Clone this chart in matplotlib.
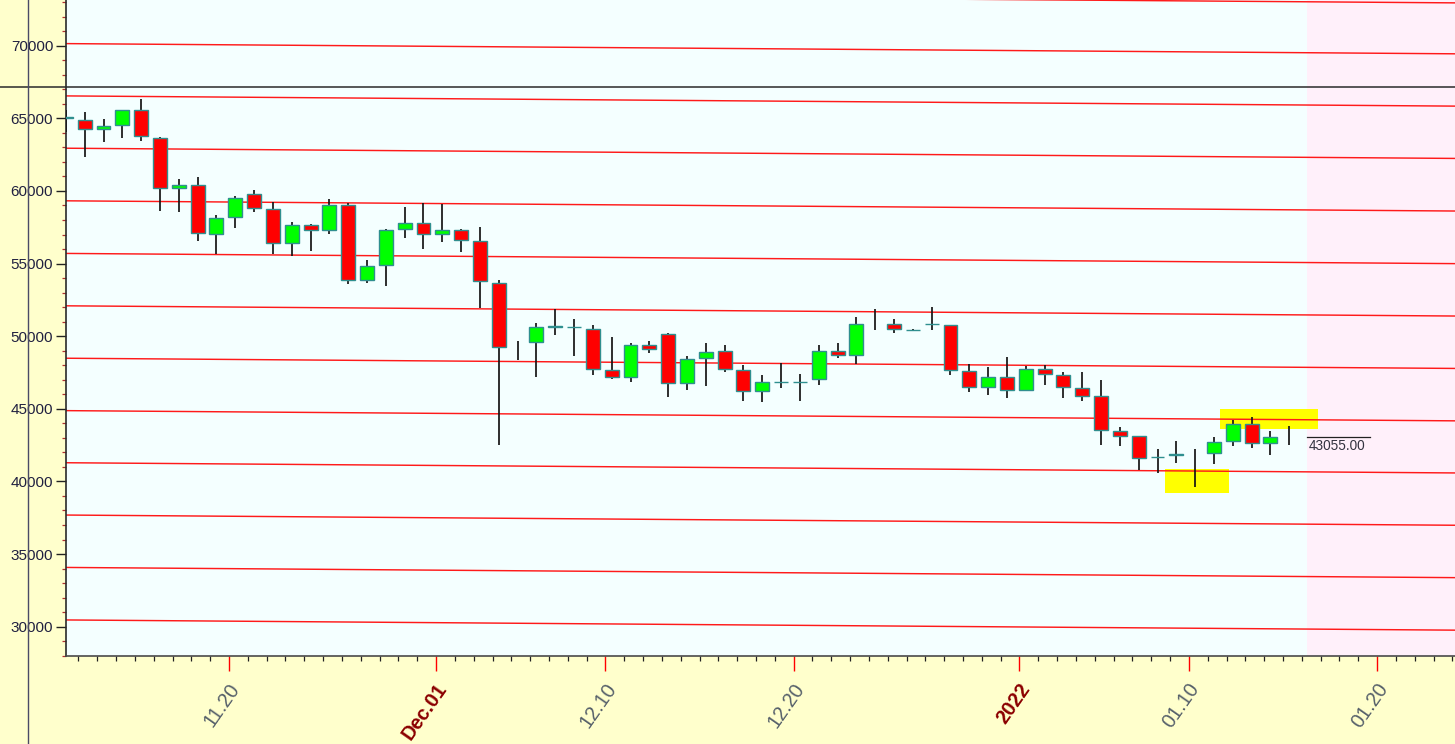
import numpy as np
import pandas as pd
import matplotlib
matplotlib.use("Agg")
import matplotlib.pyplot as plt
import matplotlib.dates as mdates
from matplotlib.patches import Rectangle
from matplotlib.lines import Line2D
from matplotlib.ticker import FixedLocator, MultipleLocator, NullFormatter
from matplotlib.transforms import ScaledTranslation, blended_transform_factory

plt.rcParams['font.family'] = ['Liberation Sans', 'DejaVu Sans']

# ---------------- data ----------------
dates = pd.date_range("2021-11-11", "2022-01-15", freq="D")
opens = [65040, 64880, 64260, 64540, 65570, 63670, 60225, 60380, 57030, 58230,
         59790, 58730, 56430, 57630, 57280, 59030, 53840, 54870, 57370, 57810,
         57050, 57300, 56520, 53680, 49300, 49570, 50660, 50600, 50510, 47660,
         47220, 49380, 50165, 46790, 48510, 48950, 47660, 46260, 46850, 46840,
         47020, 48950, 48690, 50850, 50850, 50410, 50840, 50780, 47570, 46510,
         47220, 46330, 47750, 47310, 46440, 45850, 43440, 43110, 41670, 41840,
         41900, 41970, 42810, 43985, 42650, 43055]
highs = [65570, 65430, 64930, 65600, 66310, 63700, 60800, 60960, 58340, 59650,
         60040, 59230, 57860, 57700, 59420, 59190, 55240, 57400, 58920, 59190,
         59100, 57350, 57510, 53840, 49655, 50875, 51840, 51200, 50780, 49930,
         49500, 49700, 50200, 48670, 49500, 49360, 47990, 47360, 48170, 47430,
         49360, 49500, 51310, 51840, 51150, 50500, 52030, 50800, 48060, 47870,
         48550, 47940, 47990, 47520, 47520, 46990, 43760, 43150, 42240, 42770,
         42240, 43040, 44260, 44420, 43460, 43800]
lows = [64080, 62330, 63370, 63620, 63440, 58610, 58545, 56550, 55630, 57470,
        58545, 55680, 55510, 55860, 57010, 53560, 53680, 53450, 56730, 55970,
        56500, 55790, 51960, 42540, 48345, 47200, 50050, 48670, 47360, 47020,
        46830, 48810, 45800, 46330, 46560, 47520, 45520, 45500, 46400, 45520,
        46670, 48470, 48120, 50460, 50190, 50330, 50460, 47340, 46160, 45970,
        45730, 46220, 46670, 45730, 45570, 42540, 42430, 40770, 40560, 41280,
        39620, 41230, 42470, 42270, 41850, 42540]
closes = [65060, 64240, 64470, 65570, 63760, 60225, 60405, 57100, 58160, 59540,
          58820, 56390, 57630, 57280, 59030, 53840, 54820, 57300, 57810, 57050,
          57300, 56600, 53770, 49290, 49300, 50650, 50680, 50630, 47730, 47220,
          49380, 49100, 46790, 48440, 48900, 47730, 46260, 46880, 46870, 46860,
          48950, 48690, 50850, 50850, 50480, 50430, 50860, 47660, 46510, 47220,
          46330, 47750, 47380, 46530, 45900, 43530, 43160, 41620, 41690, 41860,
          41900, 42740, 43985, 42650, 43090, 43055]

# parallel red level lines: price at the left edge of the chart, common drift per day
level_prices = [73650, 70143, 66542, 62941, 59320, 55698, 52091, 48483,
                44875, 41288, 37687, 34080, 30465]
level_drift_per_day = -9.52

tick_dates = ["2021-11-20", "2021-12-01", "2021-12-10", "2021-12-20",
              "2022-01-01", "2022-01-10", "2022-01-20"]
tick_labels = ["11.20", "Dec.01", "12.10", "12.20", "2022", "01.10", "01.20"]
tick_bold = [False, True, False, False, True, False, False]

# highlighted zones: (start, end, low price, high price)
zone_starts = ["2022-01-11 15:50", "2022-01-08 17:30"]
zone_ends = ["2022-01-16 20:40", "2022-01-12 03:00"]
zone_lows = [43588, 39203]
zone_highs = [44965, 40855]

last_price = 43055.00

# ---------------- figure ----------------
W, H = 1455, 744
fig = plt.figure(figsize=(W / 100, H / 100), dpi=100)
fig.patch.set_facecolor('#FFFFCC')
ax = fig.add_axes([66 / W, 88 / H, 1 - 66 / W, 1 - 88 / H])
ax.set_facecolor('#F4FFFF')

x_ref = mdates.date2num(pd.Timestamp("2021-11-20"))
xmin, xmax = x_ref - 8.661, x_ref + 65.14
ax.set_xlim(xmin, xmax)
ax.set_ylim(27983, 73145)

# future area
ax.axvspan(x_ref + 57.28, xmax, color='#FFF0FA', lw=0, zorder=0.5)

# highlight zones
for s, e, lo, hi in zip(zone_starts, zone_ends, zone_lows, zone_highs):
    xs = mdates.date2num(pd.Timestamp(s))
    xe = mdates.date2num(pd.Timestamp(e))
    ax.add_patch(Rectangle((xs, lo), xe - xs, hi - lo, facecolor='#FFFF00',
                           edgecolor='none', zorder=1))

# level lines
for p in level_prices:
    ax.plot([xmin, xmax], [p, p + level_drift_per_day * (xmax - xmin)],
            color='#FF1A1A', lw=1.05, zorder=2, solid_capstyle='butt')

# candles
xc = mdates.date2num(dates) + 8 / 24
bw = 0.74
ax.vlines(xc, lows, highs, color='#151515', lw=1.25, zorder=3)
for x, o, h, l, c in zip(xc, opens, highs, lows, closes):
    if o == c:
        continue
    fc = '#00FF00' if c > o else '#FF0000'
    ax.add_patch(Rectangle((x - bw / 2, min(o, c)), bw, abs(c - o),
                           facecolor=fc, edgecolor='#2F8F8F', lw=1.0, zorder=4))

# last price marker
ax.plot([x_ref + 57.28, x_ref + 60.63], [last_price, last_price],
        color='#222222', lw=0.9, zorder=5)
ax.text(x_ref + 57.36, last_price, f"{last_price:.2f}", fontsize=9.8,
        color='#333340', ha='left', va='top', zorder=5,
        transform=ax.transData + ScaledTranslation(0, -2 / 100, fig.dpi_scale_trans))

# spines
for s in ['top', 'right']:
    ax.spines[s].set_visible(False)
ax.spines['left'].set_color('#2A2A2A')
ax.spines['left'].set_linewidth(1.2)
ax.spines['bottom'].set_color('#4A4A4A')
ax.spines['bottom'].set_linewidth(1.2)

# y axis
ax.yaxis.set_major_locator(FixedLocator(np.arange(30000, 70001, 5000)))
ax.yaxis.set_minor_locator(MultipleLocator(1000))
ax.tick_params(axis='y', which='major', length=7.2, width=1.0, color='#222222',
               labelsize=11, labelcolor='#202040', pad=2)
ax.tick_params(axis='y', which='minor', length=3, width=0.9, color='#B03030')
ax.yaxis.set_major_formatter(matplotlib.ticker.FuncFormatter(lambda v, p: f"{v:.0f}"))

# x axis
ax.xaxis.set_major_locator(FixedLocator(mdates.date2num(pd.to_datetime(tick_dates))))
ax.xaxis.set_minor_locator(mdates.DayLocator())
ax.xaxis.set_major_formatter(NullFormatter())
ax.tick_params(axis='x', which='major', length=10.8, width=1.0, color='#FF0000')
ax.tick_params(axis='x', which='minor', length=3.6, width=0.9, color='#222222')

lab_trans = blended_transform_factory(ax.transData, ax.transAxes) + \
    ScaledTranslation(-1 / 100, -24 / 100, fig.dpi_scale_trans)
for d, t, b in zip(tick_dates, tick_labels, tick_bold):
    ax.text(mdates.date2num(pd.Timestamp(d)), 0, t, transform=lab_trans,
            rotation=55, rotation_mode='anchor', ha='right', va='top',
            fontsize=14.3, fontweight='bold' if b else 'normal',
            color='#8B0000' if b else '#56606A', clip_on=False)

# crosshair lines
fig.add_artist(Line2D([0, 1], [1 - 87 / H, 1 - 87 / H], transform=fig.transFigure,
                      color='#2A2A2A', lw=1.1, zorder=10))
fig.add_artist(Line2D([28 / W, 28 / W], [0, 1], transform=fig.transFigure,
                      color='#4A4A66', lw=1.0, zorder=10))

fig.savefig("out.png", dpi=100, facecolor=fig.get_facecolor())
